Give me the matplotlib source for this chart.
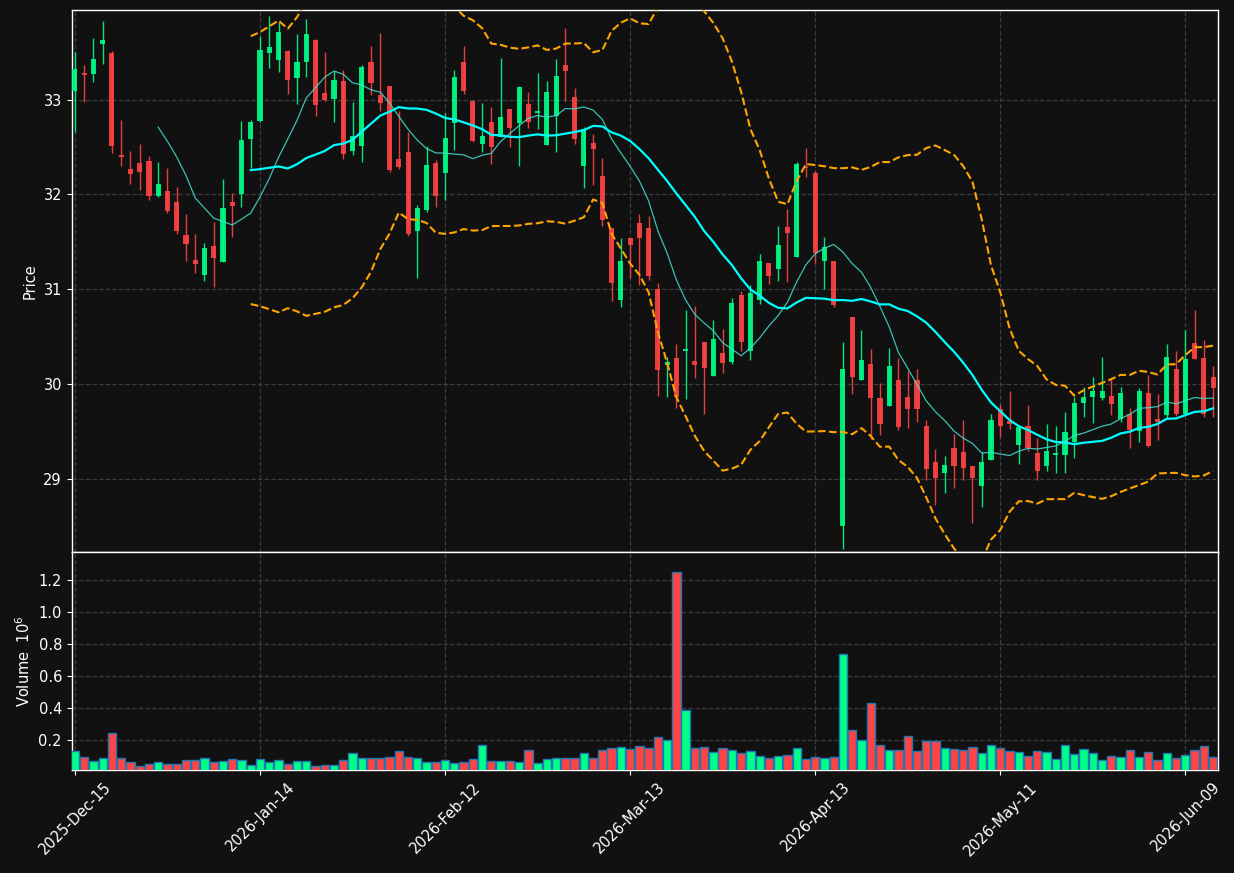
import numpy as np
import pandas as pd
import matplotlib
matplotlib.use("Agg")
import matplotlib.pyplot as plt

# daily OHLC, volume in millions
opens = [33.086, 33.28, 33.266, 33.584, 33.494, 32.40, 32.27, 32.333, 32.352, 31.978, 32.037, 31.918, 31.569, 31.307, 31.15, 31.453, 31.288, 31.918, 32.007, 32.58,
         32.775, 33.49, 33.416, 33.517, 33.225, 33.393, 33.633, 33.07, 33.004, 33.198, 32.453, 32.506, 33.40, 33.049, 33.146, 32.375, 32.449, 31.614, 31.839, 32.333,
         32.228, 32.757, 33.40, 32.981, 32.536, 32.764, 32.60, 32.903, 32.749, 32.955, 32.858, 32.517, 32.824, 33.367, 33.03, 32.303, 32.543, 32.195, 31.644, 30.888,
         31.539, 31.697, 31.644, 31.0, 30.195, 30.27, 30.345, 30.236, 30.438, 30.082, 30.322, 30.228, 30.933, 30.345, 30.888, 31.27, 31.213, 31.652, 31.337, 32.288,
         32.221, 31.292, 31.296, 28.498, 30.704, 30.041, 30.206, 29.846, 29.764, 30.037, 29.858, 30.045, 29.551, 29.18, 29.056, 29.326, 29.285, 29.135, 28.918, 29.195,
         29.734, 29.603, 29.352, 29.554, 29.273, 29.135, 29.247, 29.247, 29.39, 29.798, 29.858, 29.846, 29.876, 29.633, 29.685, 29.498, 29.899, 29.633, 29.667, 30.161,
         29.685, 30.427, 30.27, 30.067]
highs = [33.498, 33.367, 33.648, 33.824, 33.517, 32.787, 32.457, 32.53, 32.40, 32.337, 32.28, 32.075, 31.794, 31.577, 31.487, 31.708, 32.161, 32.011, 32.775, 32.783,
         33.674, 33.884, 33.816, 33.528, 33.693, 33.854, 33.64, 33.506, 33.30, 33.31, 32.974, 33.367, 33.566, 33.704, 33.146, 32.88, 32.655, 31.888, 32.506, 32.367,
         32.861, 33.31, 33.566, 33.0, 32.963, 32.918, 33.442, 32.903, 33.142, 33.079, 33.281, 33.195, 33.427, 33.757, 33.124, 32.712, 32.637, 32.382, 31.644, 31.539,
         31.54, 31.794, 31.775, 31.064, 30.285, 30.416, 30.775, 30.82, 30.44, 30.67, 30.577, 30.91, 30.978, 31.045, 31.37, 31.27, 31.67, 31.843, 32.337, 32.487,
         32.243, 31.551, 31.30, 30.446, 30.704, 30.566, 30.371, 30.011, 30.382, 30.277, 30.135, 30.157, 29.622, 29.315, 29.24, 29.472, 29.622, 29.135, 29.277, 29.678,
         29.783, 29.929, 29.55, 29.772, 29.427, 29.577, 29.554, 29.704, 29.865, 29.97, 30.075, 30.285, 30.064, 29.97, 29.745, 29.959, 30.09, 29.888, 30.423, 30.348,
         30.566, 30.783, 30.46, 30.184]
lows = [32.655, 32.974, 33.18, 33.375, 32.438, 32.30, 32.112, 32.05, 31.944, 31.97, 31.80, 31.577, 31.292, 31.165, 31.09, 31.026, 31.288, 31.554, 31.869, 32.281,
        32.768, 33.33, 33.292, 33.06, 32.948, 33.236, 32.824, 32.985, 32.768, 32.375, 32.42, 32.337, 33.05, 32.88, 32.24, 32.27, 31.56, 31.112, 31.813, 31.861,
        31.936, 32.468, 33.06, 32.55, 32.446, 32.318, 32.60, 32.498, 32.296, 32.70, 32.685, 32.517, 32.446, 32.985, 32.536, 32.064, 32.094, 31.663, 30.876, 30.813,
        31.112, 31.045, 31.10, 29.873, 29.865, 29.745, 29.835, 30.064, 29.685, 30.082, 30.116, 30.21, 30.341, 30.247, 30.846, 31.052, 31.082, 31.075, 31.337, 32.187,
        31.27, 31.0, 30.813, 28.255, 29.895, 30.041, 29.416, 29.461, 29.764, 29.517, 29.536, 29.599, 28.985, 28.723, 28.846, 28.899, 28.985, 28.536, 28.7, 29.195,
        29.435, 29.524, 29.154, 29.292, 28.985, 29.079, 29.06, 29.06, 29.217, 29.652, 29.584, 29.828, 29.67, 29.592, 29.322, 29.386, 29.33, 29.408, 29.64, 29.659,
        29.685, 30.258, 29.652, 29.648]
closes = [33.326, 33.26, 33.43, 33.633, 32.506, 32.39, 32.21, 32.24, 31.978, 32.109, 31.828, 31.614, 31.479, 31.266, 31.431, 31.33, 31.854, 31.88, 32.577, 32.764,
          33.528, 33.558, 33.708, 33.202, 33.40, 33.697, 32.94, 33.0, 33.21, 32.43, 32.618, 33.348, 33.172, 32.963, 32.258, 32.288, 31.58, 31.854, 32.311, 31.978,
          32.596, 33.243, 33.094, 32.558, 32.618, 32.494, 32.82, 32.704, 33.135, 32.76, 32.884, 33.082, 33.251, 33.30, 32.588, 32.693, 32.483, 31.727, 31.064, 31.296,
          31.468, 31.543, 31.139, 30.146, 30.228, 29.865, 30.367, 30.199, 30.165, 30.468, 30.221, 30.858, 30.442, 30.963, 31.292, 31.139, 31.461, 31.596, 32.318, 32.273,
          31.382, 31.449, 30.828, 30.161, 30.071, 30.247, 29.85, 29.573, 30.184, 29.547, 29.734, 29.734, 29.097, 29.011, 29.146, 29.135, 29.109, 29.004, 29.18, 29.622,
          29.554, 29.573, 29.547, 29.322, 29.075, 29.296, 29.273, 29.487, 29.801, 29.861, 29.929, 29.929, 29.783, 29.899, 29.517, 29.929, 29.348, 29.596, 30.281, 29.678,
          30.262, 30.258, 29.678, 29.951]
volumes = [0.131, 0.093, 0.068, 0.085, 0.244, 0.087, 0.062, 0.036, 0.047, 0.062, 0.047, 0.047, 0.074, 0.074, 0.087, 0.062, 0.068, 0.080, 0.074, 0.041,
           0.080, 0.062, 0.074, 0.047, 0.068, 0.068, 0.034, 0.041, 0.041, 0.074, 0.118, 0.087, 0.087, 0.087, 0.093, 0.131, 0.093, 0.087, 0.062, 0.062,
           0.074, 0.053, 0.062, 0.080, 0.169, 0.068, 0.068, 0.068, 0.062, 0.137, 0.053, 0.080, 0.087, 0.087, 0.087, 0.118, 0.087, 0.137, 0.150, 0.156,
           0.143, 0.162, 0.150, 0.219, 0.200, 1.251, 0.389, 0.150, 0.156, 0.125, 0.150, 0.137, 0.118, 0.131, 0.099, 0.087, 0.099, 0.106, 0.150, 0.080,
           0.093, 0.087, 0.093, 0.734, 0.263, 0.200, 0.432, 0.169, 0.137, 0.137, 0.225, 0.131, 0.194, 0.194, 0.150, 0.143, 0.137, 0.156, 0.118, 0.169,
           0.150, 0.131, 0.125, 0.099, 0.131, 0.125, 0.080, 0.169, 0.112, 0.143, 0.118, 0.074, 0.099, 0.093, 0.137, 0.093, 0.125, 0.074, 0.118, 0.087,
           0.106, 0.137, 0.162, 0.093]

holidays = ['2025-12-25', '2026-01-01', '2026-01-19', '2026-02-16', '2026-04-03', '2026-05-25']
dates = pd.bdate_range('2025-12-15', periods=len(closes), freq='C', holidays=holidays)

df = pd.DataFrame({'Open': opens, 'High': highs, 'Low': lows, 'Close': closes,
                   'Volume': volumes}, index=dates)

# indicators
ma10 = df['Close'].rolling(10).mean()
ma20 = df['Close'].rolling(20).mean()
sd20 = df['Close'].rolling(20).std(ddof=0)
bb_up = ma20 + 2 * sd20
bb_lo = ma20 - 2 * sd20

BG = '#111111'
UP = '#00ff88'
DOWN = '#ff4444'
FG = 'white'

fig = plt.figure(figsize=(12.34, 8.73), dpi=100, facecolor=BG)
ax = fig.add_axes([0.0581, 0.3677, 0.9287, 0.6203], facecolor=BG)
axv = fig.add_axes([0.0581, 0.1180, 0.9287, 0.2497], facecolor=BG, sharex=ax)

x = np.arange(len(df))
up = df['Close'] >= df['Open']
colors = np.where(up, UP, DOWN)

# candles
body_lo = np.minimum(df['Open'], df['Close'])
body_h = np.maximum((df['Close'] - df['Open']).abs(), 0.02)
ax.vlines(x, df['Low'], df['High'], colors=colors, linewidth=1.0, alpha=0.9, zorder=2)
ax.bar(x, body_h, bottom=body_lo, width=0.55, color=colors, alpha=0.9, linewidth=0, zorder=3)

# moving averages + bollinger
ax.plot(x, ma10, color='#40e0d0', linewidth=0.9, alpha=0.85, zorder=4)
ax.plot(x, ma20, color='#00ffff', linewidth=1.6, zorder=4)
ax.plot(x, bb_up, color='orange', linestyle='--', linewidth=1.5, zorder=4)
ax.plot(x, bb_lo, color='orange', linestyle='--', linewidth=1.5, zorder=4)

# volume
axv.bar(x, df['Volume'], width=0.9, color=colors, edgecolor='#1f77b4', linewidth=1.0, zorder=3)

ax.set_xlim(-0.35, 123.5)
ax.set_ylim(28.225, 33.94)
axv.set_ylim(0.3 * min(volumes), 1.1 * max(volumes))

ax.set_yticks([29, 30, 31, 32, 33])
axv.set_yticks([0.2, 0.4, 0.6, 0.8, 1.0, 1.2])
ticks = list(range(0, len(df), 20))
axv.set_xticks(ticks)
axv.set_xticklabels([dates[i].strftime('%Y-%b-%d') for i in ticks], rotation=45, ha='center')
ax.tick_params(axis='x', labelbottom=False, length=0)

for a in (ax, axv):
    a.grid(True, linestyle='--', color='#3c3c3c', linewidth=0.9)
    a.set_axisbelow(True)
    a.tick_params(colors=FG, labelsize=10.5)
    for s in a.spines.values():
        s.set_color(FG)
        s.set_linewidth(1.0)

ax.set_ylabel('Price', color=FG, fontsize=10.5)
axv.set_ylabel('Volume  $10^{6}$', color=FG, fontsize=10.5)

fig.savefig('out.png', dpi=100, facecolor=BG)
